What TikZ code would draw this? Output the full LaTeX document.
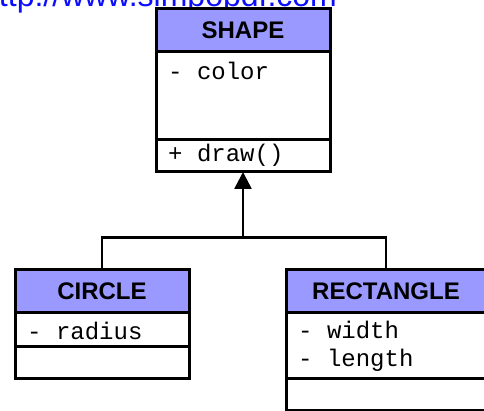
\documentclass[tikz,border=0pt]{standalone}
\usepackage{fontspec}
\usetikzlibrary{arrows.meta,positioning}
\newfontfamily\headfont{Liberation Sans}
\newfontfamily\memberfont{Liberation Mono}
\definecolor{classblue}{rgb}{0.60,0.60,1.00}
\definecolor{linkblue}{rgb}{0.05,0.05,1.00}
\tikzset{
  classhead/.style={
    draw,
    line width=3pt,
    fill=classblue,
    outer sep=0pt,
    inner sep=0pt,
    minimum height=42pt,
    font=\headfont\bfseries\fontsize{24}{28}\selectfont
  },
  classpart/.style={
    draw,
    line width=3pt,
    fill=white,
    outer sep=0pt,
    inner sep=0pt
  },
  member/.style={
    anchor=base west,
    inner sep=0pt,
    font=\memberfont\fontsize{24}{28}\selectfont
  },
  weblink/.style={
    anchor=base west,
    inner sep=0pt,
    text=linkblue,
    font=\headfont\fontsize{32}{36}\selectfont
  },
  tree/.style={
    line width=2.6pt
  },
  inherit/.style={
    tree,
    -{Triangle[length=17pt, width=17pt]}
  }
}

\begin{document}
\begin{tikzpicture}[x=1pt, y=1pt, node distance=0pt]
\useasboundingbox (0,0) rectangle (484,-411);
\node[weblink] (link) at (-19,-7) {http://www.simpopdf.com};
\node[classhead, minimum width=174pt, minimum height=43pt] (shapehead) at (243,-30.5) {SHAPE};
\node[classpart, minimum width=174pt, minimum height=88pt, below=of shapehead] (shapeattr) {};
\node[classpart, minimum width=174pt, minimum height=32pt, below=of shapeattr] (shapemeth) {};
\node[classhead, minimum width=174pt] (circlehead) at (102,-291) {CIRCLE};
\node[classpart, minimum width=174pt, minimum height=34pt, below=of circlehead] (circleattr) {};
\node[classpart, minimum width=174pt, minimum height=32pt, below=of circleattr] (circlemeth) {};
\node[classhead, minimum width=200pt] (recthead) at (386,-291) {RECTANGLE};
\node[classpart, minimum width=200pt, minimum height=66pt, below=of recthead] (rectattr) {};
\node[classpart, minimum width=200pt, minimum height=32pt, below=of rectattr] (rectmeth) {};
\node[member] (color) at ([shift={(12,-28)}]shapeattr.north west) {- color};
\node[member] (draw) at ([shift={(12,-21.5)}]shapemeth.north west) {+ draw()};
\node[member] (radius) at ([shift={(12,-27)}]circleattr.north west) {- radius};
\node[member] (width) at ([shift={(12,-26)}]rectattr.north west) {- width};
\node[member] (length) at ([shift={(12,-54)}]rectattr.north west) {- length};
\coordinate (joint) at (243,-237.5);
\draw[tree] (circlehead.north) |- (joint) -| (recthead.north);
\draw[inherit] (joint) -- (shapemeth.south);
\end{tikzpicture}
\end{document}
